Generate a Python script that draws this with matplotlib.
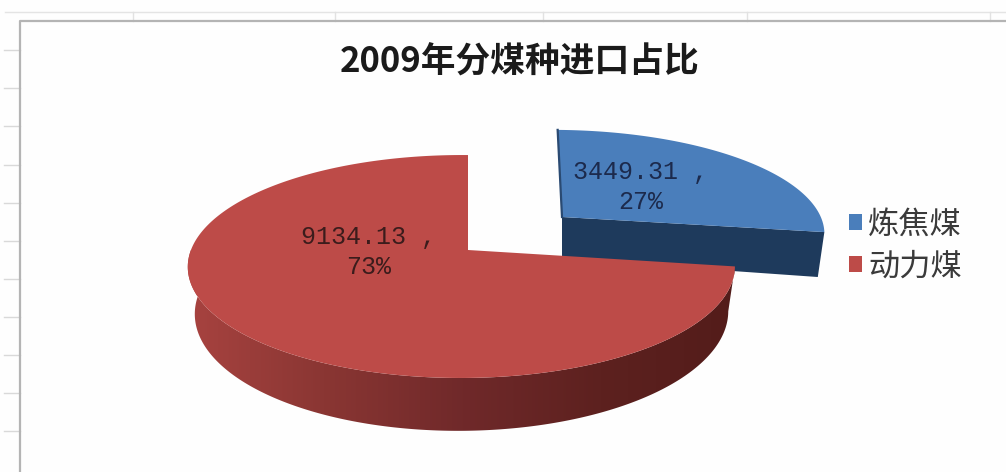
import numpy as np
import matplotlib
matplotlib.use("Agg")
import matplotlib.pyplot as plt
from matplotlib.colors import LinearSegmentedColormap
from matplotlib.patches import Patch, Polygon

plt.rcParams['font.family'] = ['Noto Sans CJK SC', 'DejaVu Sans']

# Import volumes by coal type
title = "2009年分煤种进口占比"
categories = ["炼焦煤", "动力煤"]
values = [3449.31, 9134.13]
percents = [27, 73]
top_colors = ["#4a7ebb", "#bd4b48"]

total = sum(values)
split_deg = 360.0 * values[0] / total

fig = plt.figure(figsize=(10.06, 4.72), dpi=100, facecolor="#fefefe")
ax = fig.add_axes([0, 0, 1, 1])
ax.set_xlim(0, 1006)
ax.set_ylim(472, 0)
ax.axis("off")


def project(theta_deg, apex, rx, ry, lean=0.0, k=0.148, m=0.024):
    """Map pie angles (clockwise from north) onto the tilted pie plane."""
    t = np.radians(theta_deg)
    a, b = np.sin(t), np.cos(t)
    w = 1 + k * b + m * a
    return apex[0] + (rx * a + lean * b) / w, apex[1] - ry * b / w, w


def wedge_top(start, stop, apex, rx, ry, lean=0.0, include_apex=True):
    th = np.linspace(start, stop, 240)
    x, y, _ = project(th, apex, rx, ry, lean)
    pts = np.column_stack([x, y])
    if include_apex:
        pts = np.vstack([[apex], pts])
    return pts


def wall_offset(x, y, w, apex, depth, narrow=0.975):
    return apex[0] + (x - apex[0]) * narrow, y + depth / w


# Spreadsheet frame behind the chart
grid = "#d9d9d9"
ax.plot([5, 1006], [12, 12], color="#e4e4e4", lw=1)
for gx in [133, 335, 543, 747, 990]:
    ax.plot([gx, gx], [12, 21], color="#e2e2e2", lw=1)
for gy in [50, 88, 126, 165, 203, 241, 279, 317, 355, 393, 431]:
    ax.plot([4, 20], [gy, gy], color=grid, lw=1)
ax.plot([20, 20, 1006], [472, 21, 21], color="#b4b4b4", lw=1.6)

# Pulled-out coking coal slice
blue_apex = (562.0, 217.0)
blue_rx, blue_ry, blue_lean = 265.0, 100.0, -5.0
ex, ey, ew = project(split_deg, blue_apex, blue_rx, blue_ry, blue_lean)
bx, by = wall_offset(ex, ey, ew, blue_apex, 45.0)
ax.add_patch(Polygon([blue_apex, (ex, ey), (bx, by), (blue_apex[0], blue_apex[1] + 42)],
                     closed=True, fc="#1e3a5c", ec="none", zorder=2))
ax.add_patch(Polygon(wedge_top(0, split_deg, blue_apex, blue_rx, blue_ry, blue_lean),
                     closed=True, fc=top_colors[0], ec="none", zorder=3))
tx, ty, _ = project(0.0, blue_apex, blue_rx, blue_ry, blue_lean)
ax.plot([tx, blue_apex[0]], [ty, blue_apex[1]], color="#2a4a72", lw=1.6, zorder=4)

# Steam coal slice: side wall with a left-to-right shading, then the top face
red_apex = (468.0, 250.0)
red_rx, red_ry = 270.4, 109.0
th = np.linspace(split_deg, 360, 400)
rim_x, rim_y, rim_w = project(th, red_apex, red_rx, red_ry)
low_x, low_y = wall_offset(rim_x, rim_y, rim_w, red_apex, 45.0)
wall_pts = np.vstack([np.column_stack([rim_x, rim_y]),
                      np.column_stack([low_x, low_y])[::-1]])
wall_clip = Polygon(wall_pts, closed=True, transform=ax.transData, fc="none", ec="none")
ax.add_patch(wall_clip)
shade = LinearSegmentedColormap.from_list(
    "wall", ["#a84340", "#8a3633", "#70292a", "#5d211f", "#531c1a"])
img = ax.imshow(np.linspace(0, 1, 256)[None, :], cmap=shade, aspect="auto",
                extent=(185, 740, 450, 250), zorder=5)
img.set_clip_path(wall_clip)
ax.add_patch(Polygon(wedge_top(split_deg, 360, red_apex, red_rx, red_ry),
                     closed=True, fc=top_colors[1], ec="none", zorder=6))
ax.set_xlim(0, 1006)
ax.set_ylim(472, 0)

# Value and share labels
label_font = dict(family="Liberation Mono", fontsize=18, ha="center", va="center",
                  linespacing=1.3, zorder=8)
ax.text(641, 187, f"{values[0]:.2f} ,\n{percents[0]}%", color="#1c2a4c", **label_font)
ax.text(369, 252, f"{values[1]:.2f} ,\n{percents[1]}%", color="#3b1c1c", **label_font)

ax.text(520, 62, title, fontsize=25, fontweight="bold", color="#1a1a1a",
        ha="center", va="center", zorder=8)

handles = [Patch(fc=c, ec="none") for c in top_colors]
leg = ax.legend(handles, categories, loc="center left", bbox_to_anchor=(848.5 / 1006, 1 - 245.5 / 472),
                frameon=False, fontsize=22.5, labelcolor="#3a3a3a", handlelength=0.42,
                handleheight=0.42, handletextpad=0.2, labelspacing=0.32, borderpad=0,
                borderaxespad=0)
leg.set_zorder(8)

fig.savefig("out.png", dpi=100, facecolor=fig.get_facecolor())
